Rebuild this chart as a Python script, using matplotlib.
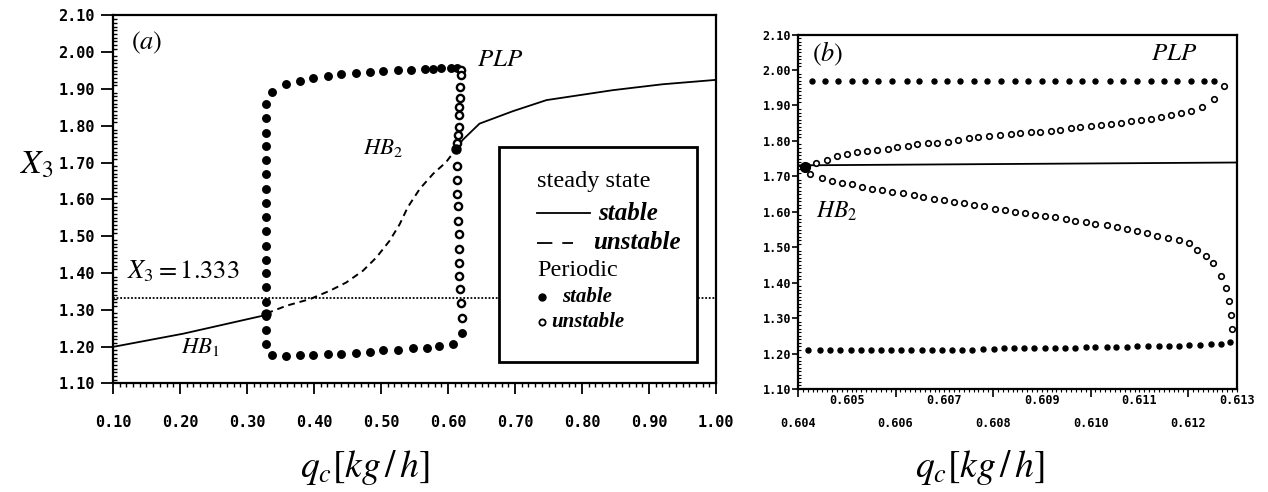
import matplotlib
matplotlib.use("Agg")
import matplotlib.pyplot as plt
from matplotlib.ticker import MultipleLocator
from matplotlib.patches import Rectangle

plt.rcParams["font.family"] = ["Liberation Serif", "DejaVu Serif"]
plt.rcParams["mathtext.fontset"] = "stix"

# -------------------------------
# Panel (a): steady state branch
# -------------------------------
qa_ss_stable1 = [0.100, 0.205, 0.329]
xa_ss_stable1 = [1.199, 1.235, 1.286]
qa_ss_unstable = [0.329, 0.359, 0.394, 0.424, 0.448, 0.473, 0.493, 0.513, 0.528, 0.540, 0.558, 0.578, 0.597, 0.612]
xa_ss_unstable = [1.290, 1.311, 1.329, 1.352, 1.374, 1.406, 1.442, 1.488, 1.533, 1.579, 1.629, 1.670, 1.701, 1.737]
qa_ss_stable2 = [0.612, 0.622, 0.647, 0.697, 0.747, 0.846, 0.920, 1.000]
xa_ss_stable2 = [1.737, 1.762, 1.806, 1.840, 1.870, 1.897, 1.913, 1.925]

# panel (a): periodic branch, stable
qa_col = [0.329, 0.329, 0.329, 0.329, 0.329, 0.329, 0.329, 0.329, 0.329,
          0.329, 0.329, 0.329, 0.329, 0.329, 0.329, 0.329, 0.329, 0.329]
xa_col = [1.859, 1.822, 1.780, 1.744, 1.706, 1.668, 1.627, 1.590, 1.551,
          1.513, 1.474, 1.435, 1.399, 1.361, 1.322, 1.283, 1.245, 1.206]
qa_max = [0.338, 0.358, 0.379, 0.399, 0.421, 0.441, 0.462, 0.483, 0.503, 0.525, 0.545, 0.565, 0.577, 0.590, 0.605, 0.613]
xa_max = [1.892, 1.913, 1.922, 1.929, 1.935, 1.941, 1.944, 1.947, 1.950, 1.951, 1.953, 1.954, 1.955, 1.956, 1.956, 1.957]
qa_min = [0.338, 0.358, 0.379, 0.399, 0.421, 0.441, 0.463, 0.483, 0.503, 0.525, 0.548, 0.568, 0.587, 0.607, 0.621]
xa_min = [1.177, 1.174, 1.177, 1.177, 1.179, 1.181, 1.183, 1.186, 1.190, 1.190, 1.196, 1.197, 1.201, 1.206, 1.238]

# panel (a): periodic branch, unstable
qa_unst = [0.620, 0.619, 0.618, 0.618, 0.617, 0.617, 0.616, 0.615, 0.614,
           0.613, 0.614, 0.614, 0.615, 0.615, 0.616, 0.616, 0.617, 0.617, 0.618, 0.619, 0.621]
xa_unst = [1.952, 1.938, 1.905, 1.875, 1.851, 1.829, 1.796, 1.774, 1.753,
           1.692, 1.652, 1.616, 1.583, 1.542, 1.507, 1.466, 1.428, 1.393, 1.357, 1.319, 1.278]

hb1 = (0.329, 1.288)
hb2_a = (0.612, 1.737)
x3_ref = 1.333

# -------------------------------
# Panel (b): zoom near HB2 / PLP
# -------------------------------
qb_ss = [0.6040, 0.6130]
xb_ss = [1.731, 1.739]

qb_max = [0.60428, 0.60455, 0.60483, 0.60510, 0.60538, 0.60565, 0.60593, 0.60623, 0.60649, 0.60678,
          0.60706, 0.60733, 0.60760, 0.60788, 0.60816, 0.60844, 0.60871, 0.60901, 0.60928, 0.60955,
          0.60983, 0.61010, 0.61040, 0.61067, 0.61096, 0.61123, 0.61151, 0.61178, 0.61205, 0.61233, 0.61253]
xb_max = [1.970, 1.970, 1.970, 1.970, 1.970, 1.970, 1.970, 1.970, 1.970, 1.970,
          1.970, 1.970, 1.970, 1.970, 1.970, 1.970, 1.970, 1.970, 1.970, 1.970,
          1.970, 1.970, 1.970, 1.970, 1.970, 1.970, 1.970, 1.970, 1.970, 1.970, 1.968]

qb_min = [0.60421, 0.60445, 0.60466, 0.60486, 0.60508, 0.60529, 0.60549, 0.60570, 0.60590, 0.60612,
          0.60632, 0.60655, 0.60675, 0.60696, 0.60716, 0.60737, 0.60757, 0.60780, 0.60801, 0.60822,
          0.60843, 0.60863, 0.60884, 0.60906, 0.60926, 0.60947, 0.60969, 0.60990, 0.61010, 0.61033,
          0.61053, 0.61075, 0.61096, 0.61117, 0.61140, 0.61161, 0.61182, 0.61202, 0.61225, 0.61247,
          0.61267, 0.61286]
xb_min = [1.210, 1.210, 1.210, 1.210, 1.210, 1.210, 1.210, 1.210, 1.210, 1.210,
          1.210, 1.210, 1.210, 1.210, 1.210, 1.210, 1.210, 1.212, 1.214, 1.215,
          1.215, 1.215, 1.215, 1.216, 1.216, 1.217, 1.217, 1.218, 1.218, 1.219,
          1.219, 1.219, 1.220, 1.220, 1.221, 1.221, 1.222, 1.223, 1.224, 1.226,
          1.228, 1.234]

qb_up = [0.60418, 0.60438, 0.60459, 0.60480, 0.60501, 0.60522, 0.60542, 0.60563, 0.60584, 0.60604,
         0.60625, 0.60645, 0.60666, 0.60686, 0.60707, 0.60729, 0.60750, 0.60770, 0.60791, 0.60815,
         0.60836, 0.60856, 0.60877, 0.60897, 0.60918, 0.60938, 0.60959, 0.60979, 0.61000, 0.61021,
         0.61041, 0.61062, 0.61082, 0.61103, 0.61123, 0.61144, 0.61164, 0.61185, 0.61205, 0.61229,
         0.61253, 0.61274]
xb_up = [1.729, 1.739, 1.746, 1.756, 1.762, 1.769, 1.772, 1.774, 1.778, 1.783,
         1.786, 1.790, 1.793, 1.795, 1.798, 1.803, 1.807, 1.810, 1.813, 1.817,
         1.819, 1.822, 1.824, 1.826, 1.829, 1.832, 1.836, 1.839, 1.841, 1.845,
         1.848, 1.851, 1.855, 1.858, 1.862, 1.867, 1.872, 1.878, 1.885, 1.895,
         1.918, 1.954]

qb_low = [0.60425, 0.60449, 0.60469, 0.60490, 0.60510, 0.60531, 0.60551, 0.60572, 0.60593, 0.60615,
          0.60637, 0.60657, 0.60678, 0.60699, 0.60719, 0.60740, 0.60760, 0.60782, 0.60805, 0.60825,
          0.60846, 0.60866, 0.60887, 0.60907, 0.60928, 0.60949, 0.60969, 0.60990, 0.61010, 0.61034,
          0.61055, 0.61075, 0.61096, 0.61116, 0.61137, 0.61158, 0.61182, 0.61202, 0.61219, 0.61236,
          0.61250, 0.61267, 0.61277, 0.61284, 0.61288, 0.61289]
xb_low = [1.706, 1.696, 1.687, 1.682, 1.678, 1.671, 1.665, 1.661, 1.656, 1.652,
          1.646, 1.643, 1.637, 1.633, 1.628, 1.624, 1.618, 1.615, 1.609, 1.605,
          1.600, 1.596, 1.590, 1.587, 1.584, 1.579, 1.574, 1.570, 1.565, 1.562,
          1.558, 1.552, 1.546, 1.541, 1.533, 1.527, 1.520, 1.511, 1.492, 1.475,
          1.456, 1.418, 1.386, 1.348, 1.310, 1.269]

hb2_b = (0.60414, 1.727)

xa_ticks = [0.10, 0.20, 0.30, 0.40, 0.50, 0.60, 0.70, 0.80, 0.90, 1.00]
y_ticks = [1.10, 1.20, 1.30, 1.40, 1.50, 1.60, 1.70, 1.80, 1.90, 2.00, 2.10]
xb_ticks = [0.604, 0.605, 0.606, 0.607, 0.608, 0.609, 0.610, 0.611, 0.612, 0.613]

TICKFONT = dict(family="DejaVu Sans Mono", weight="bold")


def style_axes(ax):
    for s in ax.spines.values():
        s.set_linewidth(1.6)


# -------------------------------
# Figure
# -------------------------------
fig = plt.figure(figsize=(12.68, 4.92), dpi=100)
axa = fig.add_axes([0.0891, 0.2209, 0.4756, 0.7476])
axb = fig.add_axes([0.6293, 0.2093, 0.3462, 0.7205])

# ---- panel (a) ----
axa.plot(qa_ss_stable1, xa_ss_stable1, color="k", lw=1.3)
axa.plot(qa_ss_unstable, xa_ss_unstable, color="k", lw=1.4, ls=(0, (3.5, 2.5)))
axa.plot(qa_ss_stable2, xa_ss_stable2, color="k", lw=1.3)
axa.axhline(x3_ref, color="k", lw=1.3, ls=(0, (1, 1)))

axa.plot(qa_col, xa_col, "o", color="k", ms=5.4, zorder=3)
axa.plot(qa_max, xa_max, "o", color="k", ms=5.4, zorder=3)
axa.plot(qa_min, xa_min, "o", color="k", ms=5.4, zorder=3)
axa.plot(qa_unst, xa_unst, "o", mfc="white", mec="k", mew=1.7, ms=5.2, zorder=3)
axa.plot(*hb1, "o", color="k", ms=6.5, zorder=4)
axa.plot(*hb2_a, "o", color="k", ms=6.5, zorder=4)

axa.set_xlim(0.10, 1.00)
axa.set_ylim(1.10, 2.10)
axa.set_xticks(xa_ticks, [f"{v:.2f}" for v in xa_ticks], fontsize=11, **TICKFONT)
axa.set_yticks(y_ticks, [f"{v:.2f}" for v in y_ticks], fontsize=11, **TICKFONT)
axa.xaxis.set_minor_locator(MultipleLocator(0.01))
axa.yaxis.set_minor_locator(MultipleLocator(0.01))
axa.tick_params(axis="x", which="major", direction="out", length=8, width=1.3, pad=15)
axa.tick_params(axis="x", which="minor", direction="out", length=3, width=1)
axa.tick_params(axis="y", which="major", direction="out", length=9, width=1.3, pad=4)
axa.tick_params(axis="y", which="minor", direction="in", length=3, width=1)
style_axes(axa)

axa.text(0.151, 2.025, r"$(a)$", fontsize=19, ha="center", va="center")
axa.text(0.205, 1.406, r"$X_3=1.333$", fontsize=19, ha="center", va="center")
axa.text(0.231, 1.199, r"$HB_1$", fontsize=16.5, ha="center", va="center")
axa.text(0.503, 1.741, r"$HB_2$", fontsize=16.5, ha="center", va="center")
axa.text(0.678, 1.979, r"$PLP$", fontsize=18, ha="center", va="center")

# legend box drawn by hand
axa.add_patch(Rectangle((0.640, 0.058), 0.328, 0.584, transform=axa.transAxes,
                        facecolor="white", edgecolor="k", lw=2.0, zorder=5))
axa.text(0.703, 0.550, "steady state", transform=axa.transAxes, fontsize=17.5,
         va="center", zorder=6)
axa.plot([0.703, 0.791], [0.463, 0.463], transform=axa.transAxes, color="k", lw=1.3, zorder=6)
axa.text(0.804, 0.463, "stable", transform=axa.transAxes, fontsize=18, style="italic",
         weight="bold", va="center", zorder=6)
axa.plot([0.703, 0.763], [0.382, 0.382], transform=axa.transAxes, color="k", lw=1.3,
         ls=(0, (8.5, 5.5)), zorder=6)
axa.text(0.796, 0.382, "unstable", transform=axa.transAxes, fontsize=18, style="italic",
         weight="bold", va="center", zorder=6)
axa.text(0.703, 0.308, "Periodic", transform=axa.transAxes, fontsize=17.5, va="center", zorder=6)
axa.plot([0.711], [0.236], "o", transform=axa.transAxes, color="k", ms=5, zorder=6)
axa.text(0.744, 0.236, "stable", transform=axa.transAxes, fontsize=15, style="italic",
         weight="bold", va="center", zorder=6)
axa.plot([0.711], [0.166], "o", transform=axa.transAxes, mfc="white", mec="k", mew=1.3,
         ms=4.5, zorder=6)
axa.text(0.727, 0.166, "unstable", transform=axa.transAxes, fontsize=15, style="italic",
         weight="bold", va="center", zorder=6)

# ---- panel (b) ----
axb.plot(qb_ss, xb_ss, color="k", lw=1.3)
axb.plot(qb_max, xb_max, "o", color="k", ms=3.6, zorder=3)
axb.plot(qb_min, xb_min, "o", color="k", ms=3.6, zorder=3)
axb.plot(qb_up, xb_up, "o", mfc="white", mec="k", mew=1.2, ms=4.0, zorder=3)
axb.plot(qb_low, xb_low, "o", mfc="white", mec="k", mew=1.2, ms=4.0, zorder=3)
axb.plot(*hb2_b, "o", color="k", ms=7, zorder=4)

axb.set_xlim(0.604, 0.613)
axb.set_ylim(1.10, 2.10)
axb.set_yticks(y_ticks, [f"{v:.2f}" for v in y_ticks], fontsize=8.5, **TICKFONT)
axb.set_xticks(xb_ticks[::2], [])
axb.xaxis.set_minor_locator(MultipleLocator(0.0001))
axb.yaxis.set_minor_locator(MultipleLocator(0.01))
axb.tick_params(axis="x", which="major", direction="out", length=6, width=1.2)
axb.tick_params(axis="x", which="minor", direction="out", length=2.5, width=0.8)
axb.tick_params(axis="y", which="major", direction="out", length=4, width=1.2, pad=1)
axb.tick_params(axis="y", which="minor", direction="in", length=2.5, width=0.8)
style_axes(axb)

# staggered x tick labels (odd values on the upper row)
for i, v in enumerate(xb_ticks):
    yrow = -0.031 if i % 2 else -0.096
    axb.text(v, yrow, f"{v:.3f}", transform=axb.get_xaxis_transform(), fontsize=8.5,
             ha="center", va="center", **TICKFONT)

axb.text(0.60462, 2.046, r"$(b)$", fontsize=19, ha="center", va="center")
axb.text(0.61171, 2.046, r"$PLP$", fontsize=18, ha="center", va="center")
axb.text(0.6048, 1.600, r"$HB_2$", fontsize=17, ha="center", va="center")

# axis titles
fig.text(0.029, 0.665, r"$X_3$", fontsize=24, ha="center", va="center")
fig.text(0.288, 0.049, r"$q_c[kg\,/\,h]$", fontsize=27, ha="center", va="center")
fig.text(0.773, 0.049, r"$q_c[kg\,/\,h]$", fontsize=27, ha="center", va="center")

fig.savefig("out.png", dpi=100)
